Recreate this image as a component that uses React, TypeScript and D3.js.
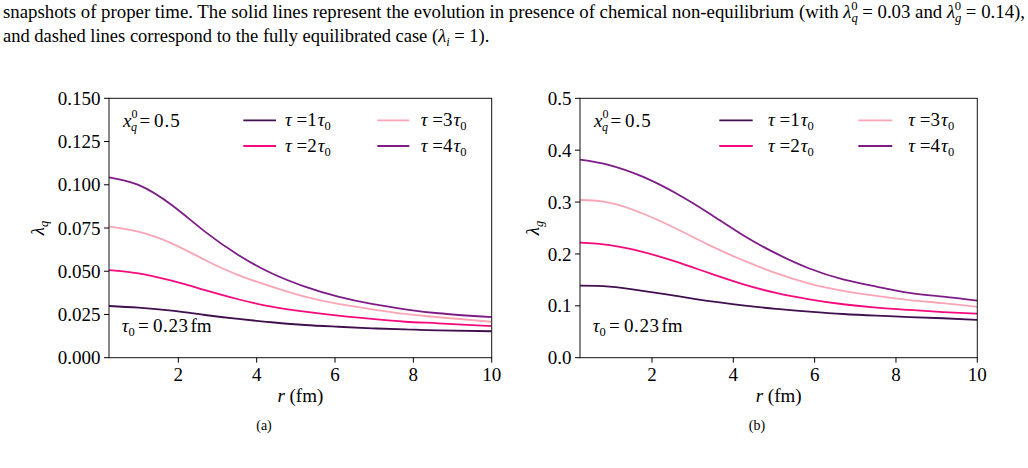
import React from "react";
import * as d3 from "d3";

// ---------------- data ----------------
const rQ = [0.23, 0.98, 1.83, 2.68, 3.53, 4.38, 5.23, 6.08, 6.94, 7.79, 8.64, 10];
const lamQTau1 = [0.0299, 0.0289, 0.0272, 0.0247, 0.0224, 0.0205, 0.0189, 0.0179, 0.017, 0.0164, 0.0158, 0.0153];
const lamQTau2 = [0.0507, 0.0488, 0.0445, 0.0391, 0.0338, 0.0295, 0.0266, 0.0243, 0.0224, 0.0208, 0.0199, 0.0183];
const lamQTau3 = [0.0758, 0.0729, 0.0661, 0.0565, 0.0478, 0.0411, 0.0353, 0.0311, 0.028, 0.0253, 0.0234, 0.0208];
const lamQTau4 = [0.1043, 0.0999, 0.0883, 0.0729, 0.0594, 0.0488, 0.0411, 0.0353, 0.0311, 0.028, 0.0257, 0.0234];

const rG = [0.23, 0.95, 1.77, 2.59, 3.41, 4.23, 5.05, 5.87, 6.7, 7.52, 8.33, 9.16, 10];
const lamGTau1 = [0.1388, 0.137, 0.129, 0.119, 0.109, 0.101, 0.094, 0.0887, 0.0842, 0.081, 0.0784, 0.076, 0.0727];
const lamGTau2 = [0.2217, 0.217, 0.204, 0.185, 0.163, 0.142, 0.125, 0.1126, 0.103, 0.0964, 0.092, 0.088, 0.0848];
const lamGTau3 = [0.304, 0.299, 0.278, 0.249, 0.217, 0.188, 0.163, 0.143, 0.129, 0.119, 0.111, 0.105, 0.098];
const lamGTau4 = [0.3817, 0.3714, 0.349, 0.317, 0.278, 0.2365, 0.201, 0.172, 0.151, 0.137, 0.125, 0.1176, 0.11];

const tauMultipliers = ["1", "2", "3", "4"];
const xTicks = [2, 4, 6, 8, 10];
const yTicksQ = [0, 0.025, 0.05, 0.075, 0.1, 0.125, 0.15];
const yTicksG = [0, 0.1, 0.2, 0.3, 0.4, 0.5];
const xDomain = [0.23, 10];

const colors = ["#3f0f4e", "#f5097d", "#fba5b5", "#7d1c87"];
const FONT = "'Liberation Serif', 'DejaVu Serif', 'Times New Roman', serif";
const FS = 19;
const SUBFS = 12.5;

type Box = { left: number; right: number; top: number; bottom: number };

function TauLabel({ x, y, n }: { x: number; y: number; n: string }) {
  return (
    <text x={x} y={y} fontSize={FS} fontFamily={FONT} fill="#000">
      <tspan fontStyle="italic">τ</tspan>
      {" ="}
      {n}
      <tspan fontStyle="italic" dx={1}>τ</tspan>
      <tspan fontSize={SUBFS} dy={4}>0</tspan>
    </text>
  );
}

function Panel(props: {
  box: Box;
  yDomain: number[];
  yTicks: number[];
  yFmt: (v: number) => string;
  r: number[];
  series: number[][];
  sub: string;
  legend: { line1: number; line2: number; text: number; col2line1: number; col2line2: number; col2text: number };
  ylabelX: number;
  caption: string;
  captionX: number;
  id: string;
}) {
  const { box, yDomain, yTicks, yFmt, r, series, sub, legend, ylabelX, caption, captionX, id } = props;
  const x = d3.scaleLinear().domain(xDomain).range([box.left, box.right]);
  const y = d3.scaleLinear().domain(yDomain).range([box.bottom, box.top]);
  const line = d3
    .line<number>()
    .x((_, i) => x(r[i]))
    .y((d) => y(d))
    .curve(d3.curveNatural);
  const cx = (box.left + box.right) / 2;
  const cy = (box.top + box.bottom) / 2;
  const rows = [120.3, 146];
  const legendItems = [
    { i: 0, lx1: legend.line1, lx2: legend.line2, tx: legend.text, ry: rows[0] },
    { i: 1, lx1: legend.line1, lx2: legend.line2, tx: legend.text, ry: rows[1] },
    { i: 2, lx1: legend.col2line1, lx2: legend.col2line2, tx: legend.col2text, ry: rows[0] },
    { i: 3, lx1: legend.col2line1, lx2: legend.col2line2, tx: legend.col2text, ry: rows[1] },
  ];
  return (
    <g>
      <defs>
        <clipPath id={id}>
          <rect x={box.left} y={box.top} width={box.right - box.left} height={box.bottom - box.top} />
        </clipPath>
      </defs>
      <g clipPath={`url(#${id})`}>
        {series.map((s, i) => (
          <path key={i} d={line(s) || ""} fill="none" stroke={colors[i]} strokeWidth={1.8} />
        ))}
      </g>
      <rect
        x={box.left}
        y={box.top}
        width={box.right - box.left}
        height={box.bottom - box.top}
        fill="none"
        stroke="#111"
        strokeWidth={1}
      />
      {xTicks.map((t) => (
        <g key={t}>
          <line x1={x(t)} x2={x(t)} y1={box.bottom} y2={box.bottom + 5} stroke="#000" strokeWidth={1} />
          <text x={x(t)} y={box.bottom + 23} textAnchor="middle" fontSize={FS} fontFamily={FONT}>
            {t}
          </text>
        </g>
      ))}
      {yTicks.map((t) => (
        <g key={t}>
          <line x1={box.left - 5} x2={box.left} y1={y(t)} y2={y(t)} stroke="#000" strokeWidth={1} />
          <text x={box.left - 8.5} y={y(t)} dy="0.35em" textAnchor="end" fontSize={FS} fontFamily={FONT}>
            {yFmt(t)}
          </text>
        </g>
      ))}
      <text x={cx} y={box.bottom + 44} textAnchor="middle" fontSize={FS} fontFamily={FONT}>
        <tspan fontStyle="italic">r</tspan>
        {" (fm)"}
      </text>
      <text
        transform={`translate(${ylabelX},${cy}) rotate(-90)`}
        textAnchor="middle"
        fontSize={FS}
        fontFamily={FONT}
      >
        <tspan fontStyle="italic">λ</tspan>
        <tspan fontSize={SUBFS} fontStyle="italic" dy={4}>
          {sub}
        </tspan>
      </text>
      <g fontFamily={FONT} fill="#000">
        <text x={box.left + 14} y={127} fontSize={FS} fontStyle="italic">x</text>
        <text x={box.left + 22.5} y={118} fontSize={SUBFS - 0.5}>0</text>
        <text x={box.left + 22} y={131} fontSize={SUBFS - 0.5} fontStyle="italic">q</text>
        <text x={box.left + 30.5} y={127} fontSize={FS}>=</text>
        <text x={box.left + 45} y={127} fontSize={FS} letterSpacing={1}>0.5</text>

        <text x={box.left + 12.7} y={331.7} fontSize={FS}>
          <tspan fontStyle="italic">τ</tspan>
          <tspan fontSize={SUBFS} dy={4}>0</tspan>
        </text>
        <text x={box.left + 29} y={331.7} fontSize={FS}>=</text>
        <text x={box.left + 44} y={331.7} fontSize={FS} letterSpacing={0.6}>0.23</text>
        <text x={box.left + 81.5} y={331.7} fontSize={FS}>fm</text>
      </g>
      {legendItems.map((it) => (
        <g key={it.i}>
          <line x1={it.lx1} x2={it.lx2} y1={it.ry} y2={it.ry} stroke={colors[it.i]} strokeWidth={1.8} />
          <TauLabel x={it.tx} y={it.ry + 6} n={tauMultipliers[it.i]} />
        </g>
      ))}
      <text x={captionX} y={430} textAnchor="middle" fontSize={14} fontFamily={FONT}>
        {caption}
      </text>
    </g>
  );
}

export default function App() {
  const boxA: Box = { left: 109, right: 491.7, top: 98.3, bottom: 357.7 };
  const boxB: Box = { left: 580, right: 977.3, top: 98.3, bottom: 357.7 };
  return (
    <svg
      width={1028}
      height={468}
      viewBox="0 0 1028 468"
      style={{ position: "absolute", left: 0, top: 0, background: "#fff" }}
    >
      <rect x={0} y={0} width={1028} height={468} fill="#fff" />
      <g fontFamily={FONT} fontSize={18.5} fill="#000">
        <text x={3} y={18} textLength={1022} lengthAdjust="spacingAndGlyphs">
          {"snapshots of proper time. The solid lines represent the evolution in presence of chemical non-equilibrium (with "}
          <tspan fontStyle="italic">λ</tspan>
          <tspan fontSize={12.5} dy={4} fontStyle="italic">q</tspan>
          <tspan fontSize={12.5} dx={-6.5} dy={-12}>0</tspan>
          <tspan dy={8}>{" = 0.03 and "}</tspan>
          <tspan fontStyle="italic">λ</tspan>
          <tspan fontSize={12.5} dy={4} fontStyle="italic">g</tspan>
          <tspan fontSize={12.5} dx={-6.5} dy={-12}>0</tspan>
          <tspan dy={8}>{" = 0.14),"}</tspan>
        </text>
        <text x={3} y={42}>
          {"and dashed lines correspond to the fully equilibrated case ("}
          <tspan fontStyle="italic">λ</tspan>
          <tspan fontSize={12.5} dy={4} fontStyle="italic">i</tspan>
          <tspan dy={-4}>{" = 1)."}</tspan>
        </text>
      </g>
      <Panel
        id="clipA"
        box={boxA}
        yDomain={[0, 0.15]}
        yTicks={yTicksQ}
        yFmt={d3.format(".3f")}
        r={rQ}
        series={[lamQTau1, lamQTau2, lamQTau3, lamQTau4]}
        sub="q"
        legend={{ line1: 243.3, line2: 276, text: 285, col2line1: 377.3, col2line2: 409.3, col2text: 420.7 }}
        ylabelX={44}
        caption="(a)"
        captionX={264}
      />
      <Panel
        id="clipB"
        box={boxB}
        yDomain={[0, 0.5]}
        yTicks={yTicksG}
        yFmt={d3.format(".1f")}
        r={rG}
        series={[lamGTau1, lamGTau2, lamGTau3, lamGTau4]}
        sub="g"
        legend={{ line1: 719.3, line2: 752.7, text: 768, col2line1: 858.3, col2line2: 892.3, col2text: 908.3 }}
        ylabelX={539}
        caption="(b)"
        captionX={757}
      />
    </svg>
  );
}
